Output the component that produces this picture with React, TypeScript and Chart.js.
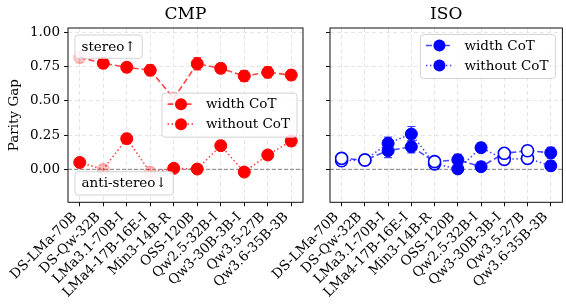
import React, { useEffect, useRef } from "react";
import { Chart, registerables } from "chart.js";

Chart.register(...registerables);

const FONT = "'DejaVu Serif', 'Liberation Serif', serif";

// ---------------- data ----------------
const categories = [
  "DS-LMa-70B",
  "DS-Qw-32B",
  "LMa3.1-70B-I",
  "LMa4-17B-16E-I",
  "Min3-14B-R",
  "OSS-120B",
  "Qw2.5-32B-I",
  "Qw3-30B-3B-I",
  "Qw3.5-27B",
  "Qw3.6-35B-3B",
];
const yTickValues = [0, 0.25, 0.5, 0.75, 1.0];
const yMin = -0.241;
const yMax = 1.033;
const seriesLabels = ["width CoT", "without CoT"];
const panelTitles = ["CMP", "ISO"];
const yAxisTitle = "Parity Gap";
const noteLabels = ["stereo↑", "anti-stereo↓"];

// CMP panel
const cmpWithCoT = [0.818, 0.775, 0.746, 0.724, 0.519, 0.772, 0.738, 0.682, 0.709, 0.689];
const cmpWithCoTErr = [0.04, 0.035, 0.035, 0.04, 0.04, 0.045, 0.035, 0.04, 0.04, 0.035];
const cmpWithCoTSig = [false, true, true, true, false, true, true, true, true, true];
const cmpWithoutCoT = [0.05, 0.0, 0.224, -0.022, 0.007, 0.002, 0.173, -0.02, 0.105, 0.207];
const cmpWithoutCoTErr = [0.03, 0.03, 0.035, 0.04, 0.03, 0.03, 0.035, 0.03, 0.03, 0.035];
const cmpWithoutCoTSig = [true, false, true, false, true, true, true, true, true, true];

// ISO panel
const isoWithCoT = [0.08, 0.068, 0.136, 0.165, 0.056, 0.07, 0.019, 0.117, 0.136, 0.121];
const isoWithCoTErr = [0.035, 0.035, 0.05, 0.045, 0.035, 0.04, 0.035, 0.035, 0.035, 0.04];
const isoWithCoTSig = [false, false, true, true, false, true, true, false, false, true];
const isoWithoutCoT = [0.063, 0.068, 0.19, 0.258, 0.04, 0.003, 0.158, 0.073, 0.08, 0.026];
const isoWithoutCoTErr = [0.035, 0.035, 0.045, 0.055, 0.035, 0.03, 0.035, 0.035, 0.035, 0.035];
const isoWithoutCoTSig = [false, false, true, true, false, true, true, false, false, true];

// ---------------- styling helpers ----------------
const RED = "255,0,0";
const BLUE = "0,0,255";
const rgba = (c: string, a: number) => `rgba(${c},${a})`;
const DASHED = [6, 3];
const DOTTED = [1.5, 2.5];

function makeDataset(
  label: string,
  values: number[],
  errors: number[],
  sig: boolean[],
  color: string,
  dash: number[],
  mode: "fade" | "hollow"
) {
  const bg = sig.map((s) =>
    s ? rgba(color, 1) : mode === "fade" ? rgba(color, 0.22) : "#ffffff"
  );
  const bc = sig.map((s) => (s ? rgba(color, 1) : mode === "fade" ? rgba(color, 0.22) : rgba(color, 1)));
  const bw = sig.map((s) => (s ? 1 : mode === "fade" ? 1 : 1.6));
  const ec = sig.map((s) => (s ? rgba(color, 0.75) : mode === "fade" ? rgba(color, 0.2) : rgba(color, 0.75)));
  return {
    label,
    data: values,
    errors,
    errorColors: ec,
    solidColor: rgba(color, 1),
    borderColor: rgba(color, 0.72),
    borderWidth: 1.6,
    borderDash: dash,
    pointRadius: 6,
    pointHoverRadius: 6,
    pointBackgroundColor: bg,
    pointBorderColor: bc,
    pointBorderWidth: bw,
    fill: false,
    tension: 0,
  };
}

function roundRect(ctx: CanvasRenderingContext2D, x: number, y: number, w: number, h: number, r: number) {
  ctx.beginPath();
  ctx.moveTo(x + r, y);
  ctx.lineTo(x + w - r, y);
  ctx.arcTo(x + w, y, x + w, y + r, r);
  ctx.lineTo(x + w, y + h - r);
  ctx.arcTo(x + w, y + h, x + w - r, y + h, r);
  ctx.lineTo(x + r, y + h);
  ctx.arcTo(x, y + h, x, y + h - r, r);
  ctx.lineTo(x, y + r);
  ctx.arcTo(x, y, x + r, y, r);
  ctx.closePath();
}

const decorPlugin = {
  id: "decor",
  beforeDatasetsDraw(chart: any, _args: any, opts: any) {
    const { ctx, chartArea: a } = chart;
    const xs = chart.scales.x;
    const ys = chart.scales.y;
    ctx.save();
    // zero reference line
    const y0 = ys.getPixelForValue(0);
    ctx.strokeStyle = "#808080";
    ctx.lineWidth = 1;
    ctx.setLineDash([4, 2]);
    ctx.beginPath();
    ctx.moveTo(a.left, y0);
    ctx.lineTo(a.right, y0);
    ctx.stroke();
    ctx.setLineDash([]);
    // error bars
    chart.data.datasets.forEach((ds: any) => {
      ds.data.forEach((v: number, i: number) => {
        const e = ds.errors[i];
        const px = xs.getPixelForValue(i);
        const top = ys.getPixelForValue(v + e);
        const bot = ys.getPixelForValue(v - e);
        ctx.strokeStyle = ds.errorColors[i];
        ctx.lineWidth = 1.2;
        ctx.beginPath();
        ctx.moveTo(px, top);
        ctx.lineTo(px, bot);
        ctx.moveTo(px - 4, top);
        ctx.lineTo(px + 4, top);
        ctx.moveTo(px - 4, bot);
        ctx.lineTo(px + 4, bot);
        ctx.stroke();
      });
    });
    ctx.restore();
  },
  afterDraw(chart: any, _args: any, opts: any) {
    const { ctx, chartArea: a } = chart;
    ctx.save();
    // spines
    ctx.strokeStyle = "#111";
    ctx.lineWidth = 1;
    ctx.strokeRect(a.left, a.top, a.right - a.left, a.bottom - a.top);

    ctx.font = `13.5px ${FONT}`;
    ctx.textBaseline = "middle";
    ctx.textAlign = "left";

    const drawBox = (x: number, y: number, w: number, h: number) => {
      roundRect(ctx, x, y, w, h, 3);
      ctx.fillStyle = "rgba(255,255,255,0.85)";
      ctx.fill();
      ctx.strokeStyle = "#d3d3d3";
      ctx.lineWidth = 1;
      ctx.stroke();
    };

    // annotation boxes
    if (opts.notes) {
      const [up, down] = noteLabels;
      const w1 = ctx.measureText(up).width + 13;
      const h = 23.3;
      drawBox(a.left + 7, a.top + 7, w1, h);
      ctx.fillStyle = "#000";
      ctx.fillText(up, a.left + 13.5, a.top + 7 + h / 2 + 0.5);
      const w2 = ctx.measureText(down).width + 13;
      drawBox(a.left + 7, a.bottom - 7.3 - h, w2, h);
      ctx.fillStyle = "#000";
      ctx.fillText(down, a.left + 13.5, a.bottom - 7.3 - h / 2 + 0.5);
    }

    // legend
    const dsets = chart.data.datasets;
    const maxW = Math.max(...dsets.map((d: any) => ctx.measureText(d.label).width));
    const bw = 44 + maxW + 7;
    const bh = 44;
    const bx = a.right - opts.legendRight - bw;
    const by = opts.legendPos === "center" ? (a.top + a.bottom) / 2 - bh / 2 : a.top + 6.5;
    drawBox(bx, by, bw, bh);
    dsets.forEach((d: any, i: number) => {
      const cy = by + 11 + i * 20;
      ctx.strokeStyle = d.borderColor;
      ctx.lineWidth = 1.6;
      ctx.setLineDash(d.borderDash);
      ctx.beginPath();
      ctx.moveTo(bx + 5.5, cy);
      ctx.lineTo(bx + 32.5, cy);
      ctx.stroke();
      ctx.setLineDash([]);
      ctx.fillStyle = d.solidColor;
      ctx.beginPath();
      ctx.arc(bx + 19, cy, 6, 0, Math.PI * 2);
      ctx.fill();
      ctx.fillStyle = "#000";
      ctx.fillText(d.label, bx + 44, cy + 0.5);
    });
    ctx.restore();
  },
};

function buildConfig(panel: number): any {
  const isLeft = panel === 0;
  const color = isLeft ? RED : BLUE;
  const datasets = isLeft
    ? [
        makeDataset(seriesLabels[0], cmpWithCoT, cmpWithCoTErr, cmpWithCoTSig, color, DASHED, "fade"),
        makeDataset(seriesLabels[1], cmpWithoutCoT, cmpWithoutCoTErr, cmpWithoutCoTSig, color, DOTTED, "fade"),
      ]
    : [
        makeDataset(seriesLabels[0], isoWithCoT, isoWithCoTErr, isoWithCoTSig, color, DASHED, "hollow"),
        makeDataset(seriesLabels[1], isoWithoutCoT, isoWithoutCoTErr, isoWithoutCoTSig, color, DOTTED, "hollow"),
      ];
  const gridCommon = {
    color: "#e2e2e2",
    lineWidth: 0.9,
    tickColor: "#111",
    tickLength: 4,
    tickWidth: 1,
    drawTicks: true,
  };
  return {
    type: "line",
    data: { labels: categories, datasets },
    plugins: [decorPlugin],
    options: {
      responsive: false,
      animation: false,
      events: [],
      layout: { padding: { left: 0, top: 0, right: isLeft ? 4 : 2, bottom: 0 } },
      plugins: {
        legend: { display: false },
        tooltip: { enabled: false },
        title: {
          display: true,
          text: panelTitles[panel],
          fullSize: false,
          color: "#000",
          font: { family: FONT, size: 17, weight: "normal", lineHeight: 1.2 },
          padding: { top: 4.5, bottom: 3.1 },
        },
        decor: {
          notes: isLeft,
          legendPos: isLeft ? "center" : "upper",
          legendRight: isLeft ? 6 : 7,
        },
      },
      scales: {
        x: {
          type: "category",
          labels: categories,
          offset: true,
          grid: { ...gridCommon, offset: false },
          border: { display: false, dash: [4, 3] },
          ticks: {
            autoSkip: false,
            minRotation: 45,
            maxRotation: 45,
            labelOffset: -5,
            padding: 3,
            color: "#000",
            font: { family: FONT, size: 13.5 },
          },
          afterFit: (s: any) => {
            s.height = 104.7;
          },
        },
        y: {
          type: "linear",
          min: yMin,
          max: yMax,
          afterBuildTicks: (s: any) => {
            s.ticks = yTickValues.map((v) => ({ value: v }));
          },
          grid: { ...gridCommon },
          border: { display: false, dash: [4, 3] },
          ticks: {
            display: isLeft,
            padding: 4,
            color: "#000",
            font: { family: FONT, size: 13.5 },
            callback: (v: any) => Number(v).toFixed(2),
          },
          title: {
            display: isLeft,
            text: yAxisTitle,
            color: "#000",
            font: { family: FONT, size: 13.5 },
            padding: { top: 6, bottom: 0 },
          },
          afterFit: (s: any) => {
            s.width = isLeft ? 68 : 70;
          },
        },
      },
    },
  };
}

export default function App() {
  const leftRef = useRef<HTMLCanvasElement>(null);
  const rightRef = useRef<HTMLCanvasElement>(null);
  useEffect(() => {
    const c1 = new Chart(leftRef.current as HTMLCanvasElement, buildConfig(0));
    const c2 = new Chart(rightRef.current as HTMLCanvasElement, buildConfig(1));
    return () => {
      c1.destroy();
      c2.destroy();
    };
  }, []);
  return (
    <div
      style={{
        position: "absolute",
        left: 0,
        top: 0,
        width: 566,
        height: 307,
        overflow: "hidden",
        background: "#fff",
      }}
    >
      <canvas ref={leftRef} width={310} height={307} style={{ position: "absolute", left: 0, top: 0 }} />
      <canvas ref={rightRef} width={310} height={307} style={{ position: "absolute", left: 260, top: 0 }} />
    </div>
  );
}
